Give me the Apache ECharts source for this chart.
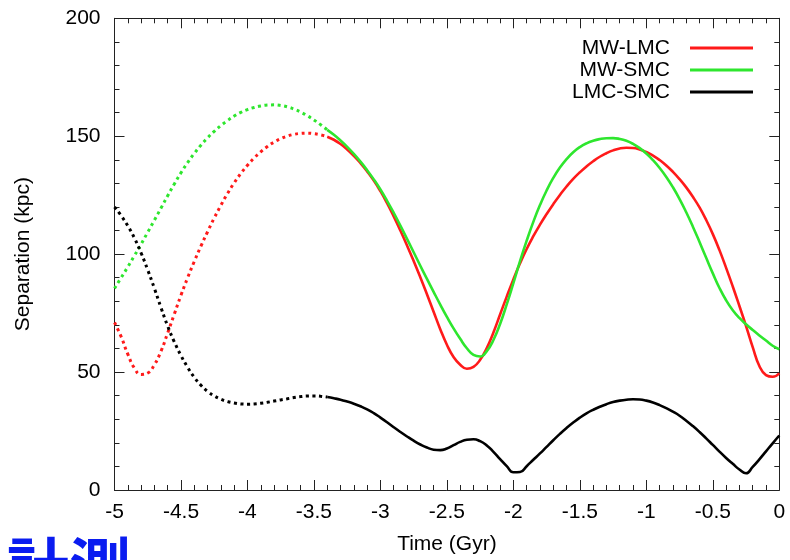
<!DOCTYPE html>
<html><head><meta charset="utf-8">
<script src="https://cdn.jsdelivr.net/npm/echarts@6/dist/echarts.min.js"></script>
<style>html,body{margin:0;padding:0;background:#fff}#c{width:790px;height:560px}</style>
</head><body><div id="c"></div>
<script>
const times = [-5.00,-4.95,-4.90,-4.85,-4.80,-4.75,-4.70,-4.65,-4.60,-4.55,
  -4.50,-4.45,-4.40,-4.35,-4.30,-4.25,-4.20,-4.15,-4.10,-4.05,
  -4.00,-3.95,-3.90,-3.85,-3.80,-3.75,-3.70,-3.65,-3.60,-3.55,
  -3.50,-3.45,-3.40,-3.35,-3.30,-3.25,-3.20,-3.15,-3.10,-3.05,
  -3.00,-2.95,-2.90,-2.85,-2.80,-2.75,-2.70,-2.65,-2.60,-2.55,
  -2.50,-2.45,-2.40,-2.35,-2.30,-2.25,-2.20,-2.15,-2.10,-2.05,
  -2.00,-1.95,-1.90,-1.85,-1.80,-1.75,-1.70,-1.65,-1.60,-1.55,
  -1.50,-1.45,-1.40,-1.35,-1.30,-1.25,-1.20,-1.15,-1.10,-1.05,
  -1.00,-0.95,-0.90,-0.85,-0.80,-0.75,-0.70,-0.65,-0.60,-0.55,
  -0.50,-0.45,-0.40,-0.35,-0.30,-0.25,-0.20,-0.15,-0.10,-0.05,0.00];
const mwLmc = [71,65,57.6,51.7,49,49.6,53.1,58.9,66.6,74.6,
  82.6,90,96.9,103.4,109.5,115.3,120.7,125.7,130.2,134.2,
  137.7,140.75,143.4,145.65,147.5,148.95,150.05,150.8,151.2,151.3,
  151.1,150.6,149.8,148.5,146.7,144.4,141.7,138.6,135.1,131.2,
  126.7,121.6,116,110,103.7,97.1,90.2,83,75.6,68.2,
  61.6,56.4,53.1,51.4,52.2,55.2,60.2,66.8,74.4,82,
  89.3,96.1,102.2,107.6,112.5,117,121.2,125.1,128.7,131.9,
  134.7,137.2,139.4,141.3,142.8,144,144.8,145.1,145,144.4,
  143.3,141.8,139.9,137.6,134.9,131.8,128.3,124.3,119.8,114.5,
  108.5,101.7,94.2,86.3,78,69.5,60.6,52.6,48.7,48,49.5];
const mwSmc = [85.5,90,94.6,99.35,104.25,109.3,114.4,119.55,124.75,129.75,
  134.5,138.8,142.7,146.2,149.3,152.05,154.5,156.65,158.55,160.1,
  161.3,162.2,162.85,163.2,163.3,163.05,162.45,161.5,160.25,158.7,
  156.9,154.9,152.7,150.6,148.2,145.5,142.5,139.2,135.6,131.7,
  127.4,122.6,117.5,112.1,106.5,100.8,95.1,89.5,84,78.6,
  73.4,68.5,64.1,60.1,57.3,56.6,58.9,63.6,70.4,78.7,
  87.7,97,105.7,113.7,120.8,127,132.3,136.7,140.3,143.2,
  145.4,147,148.1,148.8,149.15,149.2,148.85,148.05,146.75,144.95,
  142.65,139.85,136.55,132.75,128.35,123.35,117.75,111.65,105.15,98.45,
  91.85,85.65,80.45,76.25,72.95,70.25,67.85,65.55,63.35,61.15,59.65];
const lmcSmc = [120,116.3,112,106.8,100.5,93.3,85.5,77.3,69.5,62.8,
  57,52,47.8,44.4,41.8,39.9,38.5,37.5,36.9,36.5,
  36.4,36.5,36.8,37.2,37.7,38.2,38.7,39.2,39.6,39.85,
  39.9,39.75,39.4,38.9,38.3,37.5,36.6,35.5,34.2,32.6,
  30.7,28.7,26.6,24.6,22.7,20.9,19.3,18,17.1,16.9,
  17.6,19,20.4,21.3,21.5,20.7,18.9,16.2,13.1,10.1,
  7.5,7.6,10.1,12.8,15.5,18.3,21.1,23.8,26.3,28.6,
  30.7,32.5,34,35.3,36.4,37.3,37.9,38.3,38.5,38.4,
  37.9,37.1,36,34.7,33.2,31.5,29.4,27.1,24.6,21.9,
  19.1,16.3,13.6,11.1,8.7,7.1,9.8,13,16.4,19.8,23.1];
const seriesNames = ['MW-LMC', 'MW-SMC', 'LMC-SMC'];
const seriesValues = [mwLmc, mwSmc, lmcSmc];
const seriesColors = ['#ff1a1a', '#2ee62e', '#000000'];
const splitTime = -3.4;   // past (dotted) / recent (solid) boundary
const noteText = '計測';

const FONT = '"Liberation Sans", Arial, Helvetica, sans-serif';
const AX = '#222';

function pairs(vals, keep) {
  const out = [];
  times.forEach((t, i) => { if (keep(t)) out.push([t, vals[i]]); });
  return out;
}

const series = [];
seriesValues.forEach((vals, k) => {
  series.push({
    name: seriesNames[k] + ' (earlier)', type: 'line', symbol: 'none', smooth: 0.5,
    data: pairs(vals, t => t <= splitTime + 1e-9),
    lineStyle: { color: seriesColors[k], width: 3, type: [3, 3.6], cap: 'butt' },
    itemStyle: { color: seriesColors[k] }, silent: true, z: 2 + k
  });
});
seriesValues.forEach((vals, k) => {
  series.push({
    name: seriesNames[k], type: 'line', symbol: 'none', smooth: 0.5,
    data: pairs(vals, t => t >= splitTime - 1e-9),
    lineStyle: { color: seriesColors[k], width: 2.6 },
    itemStyle: { color: seriesColors[k] }, z: 2 + k
  });
});

const commonAxis = {
  type: 'value',
  axisLine: { show: true, onZero: false, lineStyle: { color: AX, width: 1 } },
  axisTick: { show: true, inside: true, length: 10, lineStyle: { color: AX, width: 1 } },
  minorTick: { show: true, splitNumber: 5, length: 5, lineStyle: { color: AX, width: 1 } },
  splitLine: { show: false }, minorSplitLine: { show: false }
};

const option = {
  backgroundColor: '#fff',
  animation: false,
  grid: { left: 114.5, right: 10.7, top: 18.3, bottom: 65 },
  xAxis: [
    Object.assign({}, commonAxis, {
      min: -5, max: 0, interval: 0.5, position: 'bottom',
      axisLabel: { margin: 12, fontSize: 21, color: '#000', fontFamily: FONT },
      name: 'Time (Gyr)', nameLocation: 'middle', nameGap: 44,
      nameTextStyle: { fontSize: 21, color: '#000', fontFamily: FONT }
    }),
    Object.assign({}, commonAxis, {
      min: -5, max: 0, interval: 0.5, position: 'top', axisLabel: { show: false }
    })
  ],
  yAxis: [
    Object.assign({}, commonAxis, {
      min: 0, max: 200, interval: 50, position: 'left',
      axisLabel: { margin: 14, fontSize: 21, color: '#000', fontFamily: FONT },
      name: 'Separation (kpc)', nameLocation: 'middle', nameGap: 81,
      nameTextStyle: { fontSize: 21, color: '#000', fontFamily: FONT }
    }),
    Object.assign({}, commonAxis, {
      min: 0, max: 200, interval: 50, position: 'right', axisLabel: { show: false }
    })
  ],
  legend: seriesNames.map((n, k) => ({
    data: [n], orient: 'vertical', right: 37, top: 37.5 + 22 * k,
    icon: 'rect', itemWidth: 63, itemHeight: 3, align: 'right', padding: 0,
    selectedMode: false,
    textStyle: { fontSize: 21, color: '#000', fontFamily: FONT, padding: [0, 15, 0, 0] }
  })),
  graphic: [{
    type: 'text', left: 7, top: 535, silent: true,
    style: { text: noteText, font: 'bold 62px "Noto Sans CJK JP"', fill: '#0a1cf0' }
  }],
  series: series
};

const chart = echarts.init(document.getElementById('c'), null, { renderer: 'canvas' });
chart.setOption(option);
</script>
</body></html>
